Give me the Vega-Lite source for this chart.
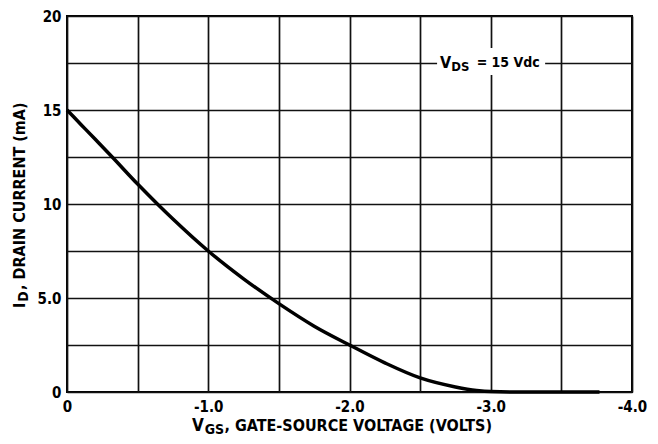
{
  "$schema": "https://vega.github.io/schema/vega-lite/v6.json",
  "width": 565,
  "height": 376,
  "autosize": {"type": "none"},
  "padding": {"left": 67, "top": 16, "right": 26, "bottom": 52},
  "background": "white",
  "config": {
    "view": {"stroke": "black", "strokeWidth": 2},
    "font": "DejaVu Sans Condensed, Liberation Sans, sans-serif",
    "text": {"font": "DejaVu Sans Condensed, Liberation Sans, sans-serif", "fontWeight": "bold", "color": "black"}
  },
  "datasets": {
    "curve": [
      {"vgs": 0, "id": 15},
      {"vgs": -0.1, "id": 14.22},
      {"vgs": -0.2, "id": 13.44},
      {"vgs": -0.32, "id": 12.5},
      {"vgs": -0.5, "id": 11.06},
      {"vgs": -0.64, "id": 10.0},
      {"vgs": -0.75, "id": 9.2},
      {"vgs": -1.0, "id": 7.5},
      {"vgs": -1.25, "id": 6.02},
      {"vgs": -1.5, "id": 4.7},
      {"vgs": -1.75, "id": 3.5},
      {"vgs": -2.0, "id": 2.5},
      {"vgs": -2.25, "id": 1.55},
      {"vgs": -2.5, "id": 0.75},
      {"vgs": -2.75, "id": 0.27},
      {"vgs": -2.9, "id": 0.08},
      {"vgs": -3.0, "id": 0.02},
      {"vgs": -3.2, "id": 0},
      {"vgs": -3.77, "id": 0}
    ]
  },
  "encoding": {
    "x": {
      "field": "vgs",
      "type": "quantitative",
      "scale": {"domain": [0, -4], "nice": false, "zero": false},
      "axis": {
        "values": [0, -0.5, -1, -1.5, -2, -2.5, -3, -3.5, -4],
        "grid": true,
        "gridColor": "#111",
        "gridWidth": 1.7,
        "ticks": false,
        "domain": false,
        "labelExpr": "datum.value == 0 ? '0' : (datum.value % 1 == 0 ? '-' + format(-datum.value, '.1f') : '')",
        "labelFont": "DejaVu Sans Condensed, Liberation Sans, sans-serif",
        "labelFontWeight": "bold",
        "labelFontSize": 15,
        "labelColor": "black",
        "labelPadding": 7,
        "labelFlush": false,
        "labelOverlap": false,
        "title": null
      }
    },
    "y": {
      "field": "id",
      "type": "quantitative",
      "scale": {"domain": [0, 20], "nice": false},
      "axis": {
        "values": [0, 2.5, 5, 7.5, 10, 12.5, 15, 17.5, 20],
        "grid": true,
        "gridColor": "#111",
        "gridWidth": 1.7,
        "ticks": false,
        "domain": false,
        "labelExpr": "datum.value == 5 ? '5.0' : (datum.value % 5 == 0 ? format(datum.value, 'd') : '')",
        "labelFont": "DejaVu Sans Condensed, Liberation Sans, sans-serif",
        "labelFontWeight": "bold",
        "labelFontSize": 15,
        "labelColor": "black",
        "labelPadding": 6,
        "labelFlush": false,
        "labelOverlap": false,
        "title": null
      }
    }
  },
  "layer": [
    {
      "data": {"name": "curve"},
      "mark": {"type": "line", "color": "black", "strokeWidth": 3.5, "interpolate": "monotone"}
    },
    {
      "data": {"values": [{"vgs": -2.62, "vgs2": -3.385, "id": 16.86, "id2": 18.3}]},
      "mark": {"type": "rect", "color": "white"},
      "encoding": {
        "x2": {"field": "vgs2"},
        "y2": {"field": "id2"}
      }
    },
    {
      "data": {"values": [{"t": "V", "vgs": -2.64, "id": 17.5}]},
      "mark": {"type": "text", "align": "left", "baseline": "middle", "fontSize": 16},
      "encoding": {"text": {"field": "t"}}
    },
    {
      "data": {"values": [{"t": "DS", "vgs": -2.72, "id": 17.5}]},
      "mark": {"type": "text", "align": "left", "baseline": "middle", "fontSize": 13, "dy": 4},
      "encoding": {"text": {"field": "t"}}
    },
    {
      "data": {"values": [{"t": "= 15 Vdc", "vgs": -2.9, "id": 17.5}]},
      "mark": {"type": "text", "align": "left", "baseline": "middle", "fontSize": 14},
      "encoding": {"text": {"field": "t"}}
    },
    {
      "data": {"values": [{"t": "V", "vgs": -0.885, "id": 0}]},
      "mark": {"type": "text", "align": "left", "baseline": "middle", "fontSize": 17, "dy": 34},
      "encoding": {"text": {"field": "t"}}
    },
    {
      "data": {"values": [{"t": "GS", "vgs": -0.975, "id": 0}]},
      "mark": {"type": "text", "align": "left", "baseline": "middle", "fontSize": 14, "dy": 38},
      "encoding": {"text": {"field": "t"}}
    },
    {
      "data": {"values": [{"t": ", GATE-SOURCE VOLTAGE (VOLTS)", "vgs": -1.115, "id": 0}]},
      "mark": {"type": "text", "align": "left", "baseline": "middle", "fontSize": 16, "dy": 34},
      "encoding": {"text": {"field": "t"}}
    },
    {
      "data": {"values": [{"t": "I", "vgs": 0.333, "id": 4.47}]},
      "mark": {"type": "text", "align": "left", "baseline": "middle", "fontSize": 16, "angle": 270},
      "encoding": {"text": {"field": "t"}}
    },
    {
      "data": {"values": [{"t": "D", "vgs": 0.302, "id": 4.8}]},
      "mark": {"type": "text", "align": "left", "baseline": "middle", "fontSize": 14, "angle": 270},
      "encoding": {"text": {"field": "t"}}
    },
    {
      "data": {"values": [{"t": ", DRAIN CURRENT (mA)", "vgs": 0.333, "id": 5.43}]},
      "mark": {"type": "text", "align": "left", "baseline": "middle", "fontSize": 16, "angle": 270},
      "encoding": {"text": {"field": "t"}}
    }
  ]
}
